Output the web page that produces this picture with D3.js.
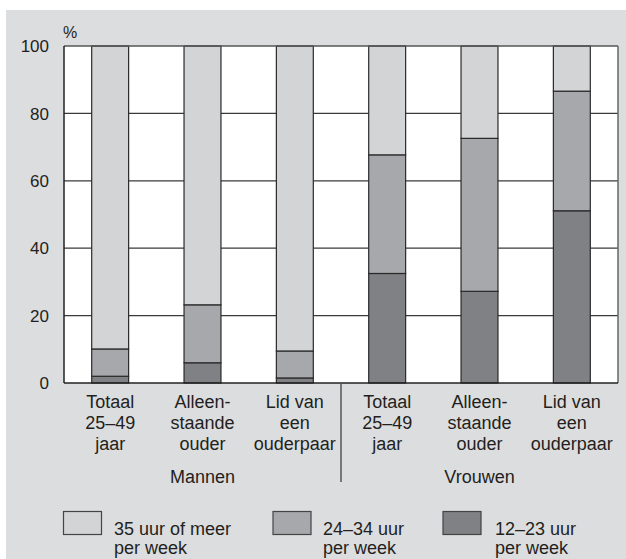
<!DOCTYPE html>
<html>
<head>
<meta charset="utf-8">
<script src="https://cdn.jsdelivr.net/npm/d3@7"></script>
<style>
  html, body { margin: 0; padding: 0; background: #ffffff; }
  svg { display: block; }
  text { font-family: "Liberation Sans", Arial, Helvetica, sans-serif; fill: #231f20; }
</style>
</head>
<body>
<svg id="chart" width="626" height="559"></svg>
<script>
// ---- Data ----
const categories = [
  ["Totaal", "25–49", "jaar"],
  ["Alleen-", "staande", "ouder"],
  ["Lid van", "een", "ouderpaar"],
  ["Totaal", "25–49", "jaar"],
  ["Alleen-", "staande", "ouder"],
  ["Lid van", "een", "ouderpaar"]
];
const groups = ["Mannen", "Vrouwen"];
const seriesNames = [["12–23 uur", "per week"], ["24–34 uur", "per week"], ["35 uur of meer", "per week"]];
const hours12to23 = [2, 6, 1.5, 32.5, 27.2, 51.1];
const hours24to34 = [8.1, 17.2, 8, 35.2, 45.4, 35.5];
const hours35plus = [89.9, 76.8, 90.5, 32.3, 27.4, 13.4];
const yTicks = [0, 20, 40, 60, 80, 100];

const colors = ["#808184", "#a7a8ab", "#d3d4d6"];

(function () {
const svg = d3.select("#chart");
svg.append("rect").attr("x", 6).attr("y", 10).attr("width", 620).attr("height", 549).attr("fill", "#dcdddf");

const pL = 64, pR = 618, pT = 46, pB = 383;
const x = d3.scaleBand().domain(d3.range(categories.length)).range([pL, pR]).paddingInner(0.6).paddingOuter(0.3);
const y = d3.scaleLinear().domain([0, 100]).range([pB, pT]);

// plot background
svg.append("rect").attr("x", pL).attr("y", pT).attr("width", pR - pL).attr("height", pB - pT).attr("fill", "#ffffff");

// gridlines
svg.append("g").selectAll("line").data(yTicks.filter(d => d > 0 && d < 100)).join("line")
  .attr("x1", pL).attr("x2", pR).attr("y1", d => y(d)).attr("y2", d => y(d))
  .attr("stroke", "#3a3a3a").attr("stroke-width", 1.2);

// stacked bars
const rows = categories.map((c, i) => ({i, s0: hours12to23[i], s1: hours24to34[i], s2: hours35plus[i]}));
const stack = d3.stack().keys(["s0", "s1", "s2"])(rows);
svg.append("g").selectAll("g").data(stack).join("g")
  .attr("fill", (d, k) => colors[k])
  .selectAll("rect").data(d => d).join("rect")
  .attr("x", d => x(d.data.i)).attr("width", x.bandwidth())
  .attr("y", d => y(d[1])).attr("height", d => y(d[0]) - y(d[1]))
  .attr("stroke", "#2a2a2a").attr("stroke-width", 1.2);

// frame
svg.append("line").attr("x1", pL).attr("x2", pR).attr("y1", pT).attr("y2", pT).attr("stroke", "#555").attr("stroke-width", 1.5);
svg.append("line").attr("x1", pR).attr("x2", pR).attr("y1", pT).attr("y2", pB).attr("stroke", "#666").attr("stroke-width", 1.5);
svg.append("line").attr("x1", pL).attr("x2", pL).attr("y1", pT).attr("y2", pB).attr("stroke", "#222").attr("stroke-width", 1.5);
svg.append("line").attr("x1", pL).attr("x2", pR).attr("y1", pB).attr("y2", pB).attr("stroke", "#222").attr("stroke-width", 1.5);

// y tick labels
svg.append("g").selectAll("text").data(yTicks).join("text")
  .attr("x", 49).attr("y", d => y(d)).attr("dy", "0.36em")
  .attr("text-anchor", "end").attr("font-size", 17).text(d => d);
svg.append("text").attr("x", 63).attr("y", 38).attr("font-size", 16).text("%");

// category labels
const catG = svg.append("g").selectAll("text").data(categories).join("text")
  .attr("text-anchor", "middle").attr("font-size", 18)
  .attr("transform", (d, i) => `translate(${x(i) + x.bandwidth() / 2},0)`);
catG.selectAll("tspan").data(d => d).join("tspan")
  .attr("x", 0).attr("y", (d, j) => 407.5 + j * 21.4).text(d => d);

// group labels
groups.forEach((g, gi) => {
  const mid = x(gi * 3 + 1) + x.bandwidth() / 2;
  svg.append("text").attr("x", mid).attr("y", 483).attr("text-anchor", "middle").attr("font-size", 18).text(g);
});
// divider
const divX = (x(2) + x.bandwidth() + x(3)) / 2;
svg.append("line").attr("x1", divX).attr("x2", divX).attr("y1", pB).attr("y2", 482).attr("stroke", "#555").attr("stroke-width", 1.5);

// legend
const legendOrder = [2, 1, 0];
const legendBoxX = [63.5, 273, 443];
const legendTextX = [114, 323, 495];
legendOrder.forEach((k, li) => {
  svg.append("rect").attr("x", legendBoxX[li]).attr("y", 511.5).attr("width", 38).attr("height", 23)
    .attr("fill", colors[k]).attr("stroke", "#444").attr("stroke-width", 1.2);
  const t = svg.append("text").attr("font-size", 18);
  seriesNames[k].forEach((line, j) => {
    t.append("tspan").attr("x", legendTextX[li]).attr("y", 534.5 + j * 19).text(line);
  });
});
})();
</script>
</body>
</html>
